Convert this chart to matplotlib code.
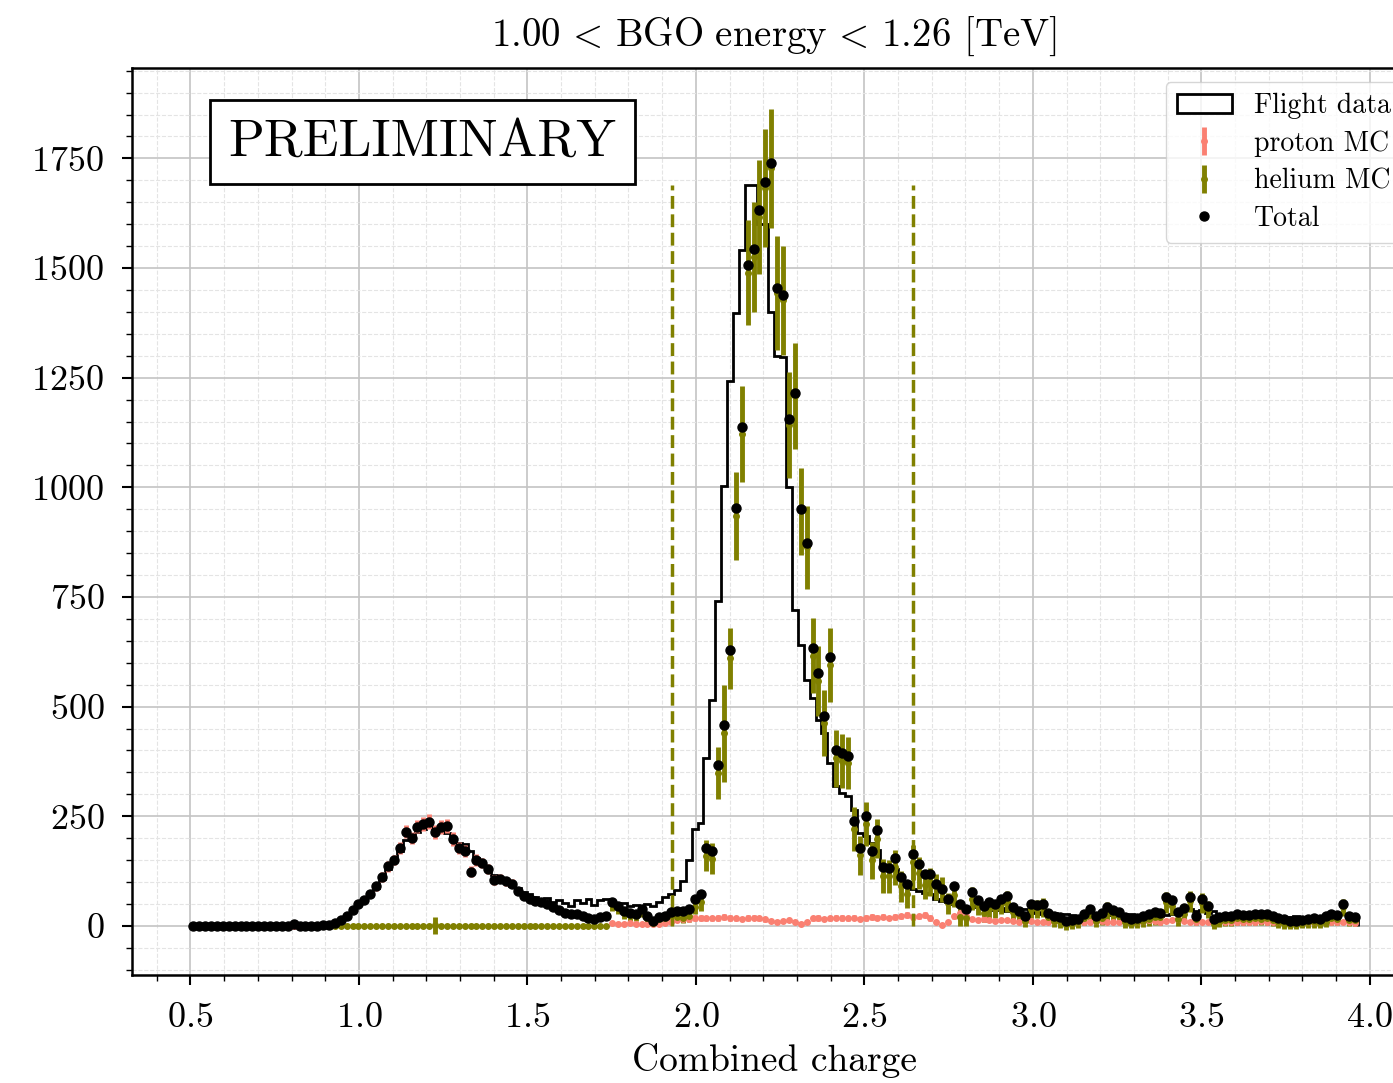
import numpy as np
import matplotlib.pyplot as plt
from matplotlib.ticker import MultipleLocator

# LaTeX-like look without a TeX install
plt.rcParams['font.family'] = 'serif'
plt.rcParams['font.serif'] = ['cmr10']
plt.rcParams['mathtext.fontset'] = 'cm'
plt.rcParams['axes.formatter.use_mathtext'] = True
plt.rcParams['axes.unicode_minus'] = False

# binning of the combined charge histograms
bin_lo = 0.5
bin_w = 0.0175

# cut window on combined charge
cut_lo = 1.93
cut_hi = 2.645

# flight data counts per bin
flight = [
    0, 0, 0, 0, 0, 0, 0, 0, 0, 0,
    0, 0, 0, 0, 0, 0, 0, 0, 0, 0,
    0, 1, 2, 5, 8, 15, 24, 33, 47, 60,
    73, 86, 108, 130, 150, 170, 195, 205, 215, 222,
    225, 222, 220, 212, 200, 190, 186, 170, 155, 145,
    130, 115, 108, 100, 92, 86, 78, 72, 66, 62,
    64, 55, 58, 52, 46, 60, 52, 62, 48, 58,
    62, 55, 50, 52, 45, 48, 44, 50, 46, 55,
    66, 72, 82, 103, 150, 222, 234, 383, 516, 741,
    1002, 1243, 1397, 1541, 1690, 1690, 1600, 1600, 1400, 1300,
    1296, 1000, 720, 640, 560, 520, 470, 440, 372, 318,
    303, 296, 264, 211, 204, 190, 172, 135, 135, 130,
    112, 100, 85, 80, 76, 73, 62, 57, 54, 50,
    47, 44, 42, 45, 40, 38, 36, 40, 34, 33,
    35, 38, 30, 32, 28, 26, 30, 25, 28, 24,
    22, 26, 24, 30, 28, 25, 24, 22, 27, 26,
    24, 22, 20, 24, 22, 25, 28, 32, 40, 38,
    35, 36, 30, 34, 28, 25, 22, 20, 22, 24,
    22, 20, 24, 20, 22, 18, 20, 22, 20, 18,
    20, 22, 24, 26, 30, 28, 24, 20,
]

# proton MC (scaled) and its uncertainty
proton = [
    0, 0, 0, 0, 0, 0, 0, 0, 0, 0,
    0, 0, 0, 0, 0, 0, 0, 0, 0, 0,
    0, 0, 1, 3, 7, 13, 22, 36, 50, 60,
    72, 90, 112, 136, 150, 178, 215, 200, 226, 232,
    238, 214, 226, 228, 198, 178, 170, 124, 150, 143,
    130, 104, 108, 102, 96, 80, 68, 62, 56, 54,
    50, 42, 36, 30, 28, 26, 22, 18, 16, 20,
    22, 6, 5, 5, 6, 5, 5, 5, 4, 5,
    6, 8, 14, 16, 16, 18, 18, 17, 17, 18,
    20, 18, 17, 16, 18, 19, 17, 15, 12, 10,
    12, 14, 8, 5, 9, 17, 18, 16, 17, 19,
    18, 17, 19, 16, 18, 20, 19, 21, 18, 20,
    22, 24, 20, 22, 25, 18, 8, 2, 10, 22,
    30, 22, 16, 14, 15, 14, 12, 13, 14, 12,
    10, 11, 12, 10, 8, 10, 11, 12, 10, 9,
    8, 10, 9, 11, 12, 10, 9, 10, 12, 11,
    10, 12, 13, 11, 10, 12, 14, 16, 12, 10,
    8, 10, 9, 12, 11, 10, 9, 8, 10, 9,
    10, 11, 9, 8, 10, 12, 11, 10, 9, 8,
    10, 11, 12, 10, 9, 8, 10, 6,
]
proton_err = [
    0, 0, 0, 0, 0, 0, 0, 0, 0, 0,
    0, 0, 0, 0, 0, 0, 0, 0, 0, 0,
    0, 0, 1, 2, 3, 4, 5, 6, 7, 8,
    9, 10, 11, 12, 12, 13, 15, 14, 15, 16,
    18, 16, 16, 16, 15, 14, 14, 12, 13, 12,
    12, 11, 11, 10, 10, 9, 9, 8, 8, 8,
    7, 7, 6, 6, 6, 5, 5, 5, 4, 5,
    5, 3, 3, 3, 3, 3, 3, 3, 3, 3,
    3, 4, 5, 5, 5, 6, 6, 5, 5, 6,
    6, 6, 5, 5, 6, 6, 5, 5, 4, 4,
    4, 5, 4, 3, 4, 5, 6, 5, 5, 6,
    6, 5, 6, 5, 6, 6, 6, 6, 5, 6,
    6, 7, 6, 6, 7, 6, 4, 2, 4, 6,
    7, 6, 5, 5, 5, 5, 4, 4, 5, 4,
    4, 4, 4, 4, 3, 4, 4, 4, 4, 3,
    3, 4, 3, 4, 4, 4, 3, 4, 4, 4,
    4, 4, 4, 4, 4, 4, 5, 5, 4, 4,
    3, 4, 3, 4, 4, 4, 3, 3, 4, 3,
    4, 4, 3, 3, 4, 4, 4, 4, 3, 3,
    4, 4, 4, 4, 3, 3, 4, 3,
]

# helium MC (scaled) and its uncertainty
helium = [
    0, 0, 0, 0, 0, 0, 0, 0, 0, 0,
    0, 0, 0, 0, 0, 0, 0, 5, 0, 0,
    0, 0, 0, 0, 0, 0, 0, 0, 0, 0,
    0, 0, 0, 0, 0, 0, 0, 0, 0, 0,
    0, 1, 0, 0, 0, 0, 0, 0, 0, 0,
    0, 0, 0, 0, 0, 0, 0, 0, 0, 0,
    0, 0, 0, 0, 0, 0, 0, 0, 0, 0,
    0, 49, 41, 29, 24, 23, 34, 17, 7, 15,
    17, 24, 20, 18, 23, 44, 55, 160, 153, 349,
    439, 610, 935, 1122, 1489, 1525, 1616, 1682, 1727, 1444,
    1426, 1142, 1208, 945, 863, 616, 558, 463, 595, 382,
    376, 371, 220, 161, 232, 150, 199, 114, 113, 134,
    90, 72, 145, 120, 94, 101, 88, 83, 52, 70,
    20, 17, 62, 46, 30, 41, 38, 49, 55, 32,
    25, 12, 38, 38, 42, 20, 12, 8, 1, 5,
    8, 18, 30, 12, 18, 34, 27, 22, 8, 5,
    8, 11, 15, 21, 20, 54, 46, 16, 28, 56,
    15, 52, 37, 4, 9, 13, 13, 19, 15, 15,
    18, 15, 18, 14, 8, 4, 1, 1, 5, 8,
    8, 5, 10, 17, 15, 42, 13, 14,
]
helium_err = [
    0, 0, 0, 0, 0, 0, 0, 0, 0, 0,
    0, 0, 0, 0, 0, 0, 0, 4, 0, 0,
    0, 0, 0, 0, 0, 0, 0, 0, 0, 0,
    0, 0, 0, 0, 0, 0, 0, 0, 0, 0,
    0, 19, 0, 0, 0, 0, 0, 0, 0, 0,
    0, 0, 0, 0, 0, 0, 0, 0, 0, 0,
    0, 0, 0, 0, 0, 0, 0, 0, 0, 0,
    0, 15, 14, 13, 12, 12, 14, 10, 8, 10,
    11, 12, 12, 12, 14, 18, 20, 35, 35, 60,
    110, 70, 100, 110, 120, 125, 130, 135, 135, 130,
    125, 120, 120, 100, 95, 85, 80, 75, 85, 65,
    62, 60, 50, 45, 50, 42, 45, 38, 38, 40,
    35, 32, 40, 36, 32, 32, 30, 28, 24, 28,
    20, 18, 26, 22, 20, 22, 20, 22, 24, 18,
    16, 14, 20, 20, 22, 16, 14, 12, 10, 12,
    12, 16, 18, 14, 16, 20, 18, 16, 12, 10,
    12, 14, 15, 18, 18, 24, 22, 16, 18, 24,
    14, 22, 20, 10, 12, 14, 14, 16, 14, 14,
    16, 14, 16, 14, 12, 10, 8, 8, 10, 12,
    12, 10, 12, 16, 14, 20, 14, 14,
]

edges = bin_lo + bin_w * np.arange(len(flight) + 1)
centers = 0.5 * (edges[1:] + edges[:-1])
total = np.array(proton) + np.array(helium)

fig = plt.figure(figsize=(13.93, 10.83), dpi=100)
ax = fig.add_axes([0.0948, 0.0997, 0.922, 0.8375])
ax.set_axisbelow(True)

_, _, h_data = ax.hist(centers, bins=edges, weights=flight, histtype='step', color='k', lw=2,
                       label='Flight data')
h_p = ax.errorbar(centers, proton, yerr=proton_err, fmt='o', color='salmon', ms=4,
                  elinewidth=3.5, label='proton MC', zorder=3)
h_he = ax.errorbar(centers, helium, yerr=helium_err, fmt='o', color='olive', ms=4,
                   elinewidth=3.5, label='helium MC', zorder=3)
h_tot, = ax.plot(centers, total, 'o', color='k', ms=6.5, ls='none', label='Total', zorder=5)
ax.vlines([cut_lo, cut_hi], 0, max(flight), colors='olive', linestyles='--', lw=2.5, zorder=4)

ax.xaxis.set_major_locator(MultipleLocator(0.5))
ax.xaxis.set_minor_locator(MultipleLocator(0.1))
ax.yaxis.set_major_locator(MultipleLocator(250))
ax.yaxis.set_minor_locator(MultipleLocator(50))
ax.tick_params(which='major', direction='out', length=7, width=1.5, labelsize=26, pad=13)
ax.tick_params(which='minor', direction='out', length=4, width=1.0)
ax.grid(which='major', color='#c4c4c4', lw=1.2)
ax.grid(which='minor', color='#e4e4e4', lw=0.8, ls='--')
for s in ax.spines.values():
    s.set_linewidth(1.8)

ax.set_xlabel('Combined charge', fontsize=27, labelpad=6)
ax.set_title(r'$1.00\,<\,\mathrm{BGO\ energy}\,<\,1.26$ [TeV]', fontsize=28, pad=16)

ax.text(0.226, 0.918, 'PRELIMINARY', transform=ax.transAxes, ha='center', va='center',
        fontsize=38, bbox=dict(boxstyle='square,pad=0.35', fc='white', ec='black', lw=2))

ax.legend([h_data[0], h_p, h_he, h_tot], ['Flight data', 'proton MC', 'helium MC', 'Total'],
          loc='upper right', fontsize=20, labelspacing=0.4, edgecolor='#cccccc')

fig.savefig('out.png', dpi=100)
